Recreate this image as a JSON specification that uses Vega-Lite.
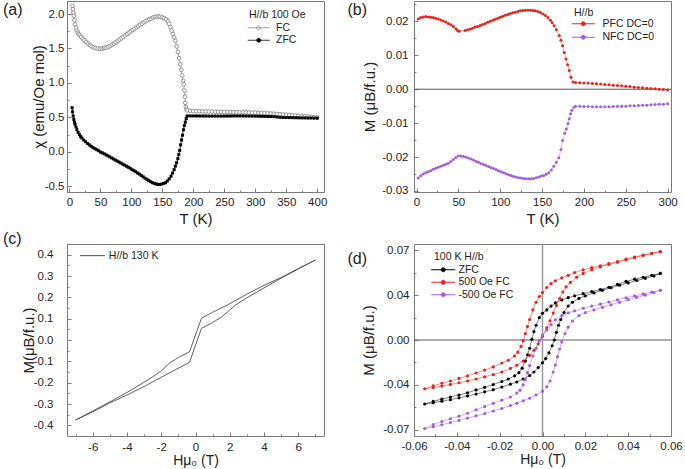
{
"$schema":"https://vega.github.io/schema/vega-lite/v6.json",
"background":"white",
"padding":{"left":2,"top":0,"right":5,"bottom":1},
"datasets":{
"a":[
{"s":"FC","x":4.8,"y":2.12},{"s":"FC","x":5.5,"y":2.07},{"s":"FC","x":6.3,"y":2.02},{"s":"FC","x":7,"y":1.975},{"s":"FC","x":8,"y":1.91},{"s":"FC","x":9.1,"y":1.85},{"s":"FC","x":10.5,"y":1.8},{"s":"FC","x":12,"y":1.76},{"s":"FC","x":13.4,"y":1.73},{"s":"FC","x":15,"y":1.71},{"s":"FC","x":17,"y":1.69},{"s":"FC","x":19,"y":1.665},{"s":"FC","x":21.5,"y":1.64},{"s":"FC","x":24,"y":1.62},{"s":"FC","x":27,"y":1.595},{"s":"FC","x":30,"y":1.57},{"s":"FC","x":33,"y":1.55},{"s":"FC","x":36,"y":1.53},{"s":"FC","x":39,"y":1.515},{"s":"FC","x":42,"y":1.505},{"s":"FC","x":45.5,"y":1.5},{"s":"FC","x":49,"y":1.495},{"s":"FC","x":52,"y":1.5},{"s":"FC","x":55,"y":1.505},{"s":"FC","x":57,"y":1.51},{"s":"FC","x":60,"y":1.515},{"s":"FC","x":63,"y":1.525},{"s":"FC","x":66,"y":1.54},{"s":"FC","x":69,"y":1.555},{"s":"FC","x":72,"y":1.57},{"s":"FC","x":75,"y":1.59},{"s":"FC","x":78,"y":1.61},{"s":"FC","x":81,"y":1.63},{"s":"FC","x":84,"y":1.65},{"s":"FC","x":87,"y":1.67},{"s":"FC","x":90,"y":1.69},{"s":"FC","x":93,"y":1.71},{"s":"FC","x":96,"y":1.73},{"s":"FC","x":99,"y":1.75},{"s":"FC","x":102,"y":1.77},{"s":"FC","x":105,"y":1.785},{"s":"FC","x":108,"y":1.805},{"s":"FC","x":111,"y":1.825},{"s":"FC","x":114,"y":1.845},{"s":"FC","x":117,"y":1.86},{"s":"FC","x":120,"y":1.88},{"s":"FC","x":123,"y":1.895},{"s":"FC","x":126,"y":1.91},{"s":"FC","x":129,"y":1.925},{"s":"FC","x":132,"y":1.935},{"s":"FC","x":135,"y":1.95},{"s":"FC","x":138,"y":1.958},{"s":"FC","x":141,"y":1.963},{"s":"FC","x":144,"y":1.965},{"s":"FC","x":147,"y":1.96},{"s":"FC","x":150,"y":1.95},{"s":"FC","x":153,"y":1.94},{"s":"FC","x":156,"y":1.925},{"s":"FC","x":159,"y":1.895},{"s":"FC","x":161,"y":1.86},{"s":"FC","x":163,"y":1.81},{"s":"FC","x":165,"y":1.76},{"s":"FC","x":167,"y":1.71},{"s":"FC","x":169,"y":1.66},{"s":"FC","x":171,"y":1.61},{"s":"FC","x":173,"y":1.53},{"s":"FC","x":175,"y":1.45},{"s":"FC","x":177,"y":1.36},{"s":"FC","x":179,"y":1.27},{"s":"FC","x":180.5,"y":1.19},{"s":"FC","x":182,"y":1.11},{"s":"FC","x":183.5,"y":1.03},{"s":"FC","x":184.5,"y":0.98},{"s":"FC","x":185.5,"y":0.89},{"s":"FC","x":186.3,"y":0.8},{"s":"FC","x":187,"y":0.71},{"s":"FC","x":188,"y":0.65},{"s":"FC","x":189,"y":0.615},{"s":"FC","x":190,"y":0.6},{"s":"FC","x":195,"y":0.595},{"s":"FC","x":200,"y":0.59},{"s":"FC","x":205,"y":0.589},{"s":"FC","x":210,"y":0.588},{"s":"FC","x":215,"y":0.586},{"s":"FC","x":220,"y":0.585},{"s":"FC","x":225,"y":0.584},{"s":"FC","x":230,"y":0.583},{"s":"FC","x":235,"y":0.581},{"s":"FC","x":240,"y":0.58},{"s":"FC","x":245,"y":0.579},{"s":"FC","x":250,"y":0.578},{"s":"FC","x":255,"y":0.577},{"s":"FC","x":260,"y":0.576},{"s":"FC","x":265,"y":0.575},{"s":"FC","x":270,"y":0.574},{"s":"FC","x":275,"y":0.573},{"s":"FC","x":280,"y":0.572},{"s":"FC","x":285,"y":0.571},{"s":"FC","x":290,"y":0.57},{"s":"FC","x":295,"y":0.568},{"s":"FC","x":300,"y":0.567},{"s":"FC","x":305,"y":0.565},{"s":"FC","x":310,"y":0.563},{"s":"FC","x":315,"y":0.56},{"s":"FC","x":320,"y":0.558},{"s":"FC","x":325,"y":0.555},{"s":"FC","x":330,"y":0.552},{"s":"FC","x":335,"y":0.548},{"s":"FC","x":340,"y":0.545},{"s":"FC","x":345,"y":0.541},{"s":"FC","x":350,"y":0.537},{"s":"FC","x":355,"y":0.533},{"s":"FC","x":360,"y":0.53},{"s":"FC","x":365,"y":0.526},{"s":"FC","x":370,"y":0.522},{"s":"FC","x":375,"y":0.518},{"s":"FC","x":380,"y":0.515},{"s":"FC","x":385,"y":0.511},{"s":"FC","x":390,"y":0.507},{"s":"FC","x":395,"y":0.503},{"s":"FC","x":400,"y":0.5},
{"s":"ZFC","x":4.3,"y":0.64},{"s":"ZFC","x":5,"y":0.58},{"s":"ZFC","x":6,"y":0.52},{"s":"ZFC","x":7,"y":0.47},{"s":"ZFC","x":8,"y":0.43},{"s":"ZFC","x":9,"y":0.4},{"s":"ZFC","x":10.5,"y":0.36},{"s":"ZFC","x":12,"y":0.32},{"s":"ZFC","x":14,"y":0.28},{"s":"ZFC","x":16,"y":0.25},{"s":"ZFC","x":18,"y":0.22},{"s":"ZFC","x":20,"y":0.2},{"s":"ZFC","x":23,"y":0.17},{"s":"ZFC","x":26,"y":0.145},{"s":"ZFC","x":29,"y":0.12},{"s":"ZFC","x":32,"y":0.1},{"s":"ZFC","x":35,"y":0.08},{"s":"ZFC","x":38,"y":0.06},{"s":"ZFC","x":41,"y":0.045},{"s":"ZFC","x":44,"y":0.03},{"s":"ZFC","x":47,"y":0.015},{"s":"ZFC","x":50,"y":-0.005},{"s":"ZFC","x":53,"y":-0.015},{"s":"ZFC","x":56,"y":-0.03},{"s":"ZFC","x":59,"y":-0.045},{"s":"ZFC","x":62,"y":-0.06},{"s":"ZFC","x":65,"y":-0.075},{"s":"ZFC","x":68,"y":-0.09},{"s":"ZFC","x":71,"y":-0.105},{"s":"ZFC","x":74,"y":-0.12},{"s":"ZFC","x":77,"y":-0.135},{"s":"ZFC","x":80,"y":-0.15},{"s":"ZFC","x":83,"y":-0.165},{"s":"ZFC","x":86,"y":-0.18},{"s":"ZFC","x":89,"y":-0.195},{"s":"ZFC","x":92,"y":-0.21},{"s":"ZFC","x":95,"y":-0.225},{"s":"ZFC","x":98,"y":-0.24},{"s":"ZFC","x":101,"y":-0.26},{"s":"ZFC","x":104,"y":-0.275},{"s":"ZFC","x":107,"y":-0.29},{"s":"ZFC","x":110,"y":-0.31},{"s":"ZFC","x":113,"y":-0.325},{"s":"ZFC","x":116,"y":-0.345},{"s":"ZFC","x":119,"y":-0.365},{"s":"ZFC","x":122,"y":-0.385},{"s":"ZFC","x":125,"y":-0.4},{"s":"ZFC","x":128,"y":-0.42},{"s":"ZFC","x":131,"y":-0.435},{"s":"ZFC","x":134,"y":-0.45},{"s":"ZFC","x":137,"y":-0.46},{"s":"ZFC","x":140,"y":-0.47},{"s":"ZFC","x":143,"y":-0.475},{"s":"ZFC","x":146,"y":-0.475},{"s":"ZFC","x":149,"y":-0.47},{"s":"ZFC","x":152,"y":-0.46},{"s":"ZFC","x":155,"y":-0.45},{"s":"ZFC","x":158,"y":-0.425},{"s":"ZFC","x":161,"y":-0.395},{"s":"ZFC","x":164,"y":-0.355},{"s":"ZFC","x":166.5,"y":-0.31},{"s":"ZFC","x":169,"y":-0.26},{"s":"ZFC","x":171,"y":-0.21},{"s":"ZFC","x":173,"y":-0.16},{"s":"ZFC","x":175,"y":-0.1},{"s":"ZFC","x":176.5,"y":-0.04},{"s":"ZFC","x":178,"y":0.02},{"s":"ZFC","x":179.5,"y":0.1},{"s":"ZFC","x":181,"y":0.17},{"s":"ZFC","x":182.5,"y":0.24},{"s":"ZFC","x":184,"y":0.32},{"s":"ZFC","x":185.5,"y":0.38},{"s":"ZFC","x":187,"y":0.43},{"s":"ZFC","x":188.5,"y":0.48},{"s":"ZFC","x":190,"y":0.52},{"s":"ZFC","x":195,"y":0.52},{"s":"ZFC","x":200,"y":0.52},{"s":"ZFC","x":205,"y":0.52},{"s":"ZFC","x":210,"y":0.519},{"s":"ZFC","x":215,"y":0.519},{"s":"ZFC","x":220,"y":0.519},{"s":"ZFC","x":225,"y":0.518},{"s":"ZFC","x":230,"y":0.518},{"s":"ZFC","x":235,"y":0.518},{"s":"ZFC","x":240,"y":0.518},{"s":"ZFC","x":245,"y":0.518},{"s":"ZFC","x":250,"y":0.518},{"s":"ZFC","x":255,"y":0.519},{"s":"ZFC","x":260,"y":0.519},{"s":"ZFC","x":265,"y":0.52},{"s":"ZFC","x":270,"y":0.52},{"s":"ZFC","x":275,"y":0.52},{"s":"ZFC","x":280,"y":0.52},{"s":"ZFC","x":285,"y":0.519},{"s":"ZFC","x":290,"y":0.519},{"s":"ZFC","x":295,"y":0.518},{"s":"ZFC","x":300,"y":0.517},{"s":"ZFC","x":305,"y":0.516},{"s":"ZFC","x":310,"y":0.515},{"s":"ZFC","x":315,"y":0.514},{"s":"ZFC","x":320,"y":0.513},{"s":"ZFC","x":325,"y":0.512},{"s":"ZFC","x":330,"y":0.51},{"s":"ZFC","x":335,"y":0.505},{"s":"ZFC","x":340,"y":0.5},{"s":"ZFC","x":345,"y":0.498},{"s":"ZFC","x":350,"y":0.497},{"s":"ZFC","x":355,"y":0.496},{"s":"ZFC","x":360,"y":0.495},{"s":"ZFC","x":365,"y":0.494},{"s":"ZFC","x":370,"y":0.493},{"s":"ZFC","x":375,"y":0.492},{"s":"ZFC","x":380,"y":0.491},{"s":"ZFC","x":385,"y":0.49},{"s":"ZFC","x":390,"y":0.49},{"s":"ZFC","x":395,"y":0.489},{"s":"ZFC","x":400,"y":0.488}
],
"b":[
{"s":"PFC DC=0","x":2,"y":0.0207},{"s":"PFC DC=0","x":5,"y":0.0211},{"s":"PFC DC=0","x":8,"y":0.0213},{"s":"PFC DC=0","x":11,"y":0.0214},{"s":"PFC DC=0","x":14,"y":0.0213},{"s":"PFC DC=0","x":17,"y":0.0212},{"s":"PFC DC=0","x":20,"y":0.0211},{"s":"PFC DC=0","x":23,"y":0.0209},{"s":"PFC DC=0","x":26,"y":0.0207},{"s":"PFC DC=0","x":29,"y":0.0204},{"s":"PFC DC=0","x":32,"y":0.0201},{"s":"PFC DC=0","x":35,"y":0.0198},{"s":"PFC DC=0","x":38,"y":0.0194},{"s":"PFC DC=0","x":41,"y":0.019},{"s":"PFC DC=0","x":44,"y":0.0185},{"s":"PFC DC=0","x":47,"y":0.0178},{"s":"PFC DC=0","x":49,"y":0.0173},{"s":"PFC DC=0","x":51,"y":0.0171},{"s":"PFC DC=0","x":58,"y":0.0173},{"s":"PFC DC=0","x":61,"y":0.0175},{"s":"PFC DC=0","x":64,"y":0.0177},{"s":"PFC DC=0","x":67,"y":0.018},{"s":"PFC DC=0","x":70,"y":0.0183},{"s":"PFC DC=0","x":73,"y":0.0185},{"s":"PFC DC=0","x":76,"y":0.0188},{"s":"PFC DC=0","x":79,"y":0.0191},{"s":"PFC DC=0","x":82,"y":0.0194},{"s":"PFC DC=0","x":85,"y":0.0197},{"s":"PFC DC=0","x":88,"y":0.02},{"s":"PFC DC=0","x":91,"y":0.0203},{"s":"PFC DC=0","x":94,"y":0.0206},{"s":"PFC DC=0","x":97,"y":0.0209},{"s":"PFC DC=0","x":100,"y":0.0212},{"s":"PFC DC=0","x":103,"y":0.0215},{"s":"PFC DC=0","x":106,"y":0.0218},{"s":"PFC DC=0","x":109,"y":0.022},{"s":"PFC DC=0","x":112,"y":0.0223},{"s":"PFC DC=0","x":115,"y":0.0225},{"s":"PFC DC=0","x":118,"y":0.0227},{"s":"PFC DC=0","x":121,"y":0.0229},{"s":"PFC DC=0","x":124,"y":0.0231},{"s":"PFC DC=0","x":127,"y":0.0232},{"s":"PFC DC=0","x":130,"y":0.0233},{"s":"PFC DC=0","x":133,"y":0.0233},{"s":"PFC DC=0","x":136,"y":0.0233},{"s":"PFC DC=0","x":139,"y":0.0232},{"s":"PFC DC=0","x":142,"y":0.0231},{"s":"PFC DC=0","x":145,"y":0.0229},{"s":"PFC DC=0","x":148,"y":0.0226},{"s":"PFC DC=0","x":151,"y":0.0222},{"s":"PFC DC=0","x":154,"y":0.0217},{"s":"PFC DC=0","x":157,"y":0.0211},{"s":"PFC DC=0","x":160,"y":0.0203},{"s":"PFC DC=0","x":162,"y":0.0196},{"s":"PFC DC=0","x":164.5,"y":0.0187},{"s":"PFC DC=0","x":167,"y":0.0175},{"s":"PFC DC=0","x":170.5,"y":0.0158},{"s":"PFC DC=0","x":172.5,"y":0.0144},{"s":"PFC DC=0","x":174.5,"y":0.0128},{"s":"PFC DC=0","x":176.5,"y":0.0108},{"s":"PFC DC=0","x":178.5,"y":0.0089},{"s":"PFC DC=0","x":180.5,"y":0.0072},{"s":"PFC DC=0","x":182.5,"y":0.0055},{"s":"PFC DC=0","x":184.5,"y":0.0035},{"s":"PFC DC=0","x":187,"y":0.0021},{"s":"PFC DC=0","x":190,"y":0.002},{"s":"PFC DC=0","x":195,"y":0.0019},{"s":"PFC DC=0","x":200,"y":0.0018},{"s":"PFC DC=0","x":205,"y":0.0018},{"s":"PFC DC=0","x":210,"y":0.0017},{"s":"PFC DC=0","x":215,"y":0.0016},{"s":"PFC DC=0","x":220,"y":0.0015},{"s":"PFC DC=0","x":225,"y":0.0014},{"s":"PFC DC=0","x":230,"y":0.0013},{"s":"PFC DC=0","x":235,"y":0.0012},{"s":"PFC DC=0","x":240,"y":0.0011},{"s":"PFC DC=0","x":245,"y":0.001},{"s":"PFC DC=0","x":250,"y":0.0009},{"s":"PFC DC=0","x":255,"y":0.0008},{"s":"PFC DC=0","x":260,"y":0.0006},{"s":"PFC DC=0","x":265,"y":0.0005},{"s":"PFC DC=0","x":270,"y":0.0004},{"s":"PFC DC=0","x":275,"y":0.0003},{"s":"PFC DC=0","x":280,"y":0.0002},{"s":"PFC DC=0","x":285,"y":0.0001},{"s":"PFC DC=0","x":290,"y":0},{"s":"PFC DC=0","x":295,"y":-0.0001},{"s":"PFC DC=0","x":300,"y":-0.0002},
{"s":"NFC DC=0","x":2,"y":-0.0262},{"s":"NFC DC=0","x":5,"y":-0.0255},{"s":"NFC DC=0","x":8,"y":-0.025},{"s":"NFC DC=0","x":11,"y":-0.0246},{"s":"NFC DC=0","x":14,"y":-0.0243},{"s":"NFC DC=0","x":17,"y":-0.024},{"s":"NFC DC=0","x":20,"y":-0.0236},{"s":"NFC DC=0","x":23,"y":-0.0233},{"s":"NFC DC=0","x":26,"y":-0.023},{"s":"NFC DC=0","x":29,"y":-0.0227},{"s":"NFC DC=0","x":32,"y":-0.0224},{"s":"NFC DC=0","x":35,"y":-0.0221},{"s":"NFC DC=0","x":38,"y":-0.0218},{"s":"NFC DC=0","x":41,"y":-0.0213},{"s":"NFC DC=0","x":44,"y":-0.0207},{"s":"NFC DC=0","x":47,"y":-0.0201},{"s":"NFC DC=0","x":50,"y":-0.0197},{"s":"NFC DC=0","x":53,"y":-0.0197},{"s":"NFC DC=0","x":56,"y":-0.0198},{"s":"NFC DC=0","x":59,"y":-0.02},{"s":"NFC DC=0","x":62,"y":-0.0203},{"s":"NFC DC=0","x":65,"y":-0.0206},{"s":"NFC DC=0","x":68,"y":-0.0209},{"s":"NFC DC=0","x":71,"y":-0.0212},{"s":"NFC DC=0","x":74,"y":-0.0215},{"s":"NFC DC=0","x":77,"y":-0.0219},{"s":"NFC DC=0","x":80,"y":-0.0222},{"s":"NFC DC=0","x":83,"y":-0.0225},{"s":"NFC DC=0","x":86,"y":-0.0228},{"s":"NFC DC=0","x":89,"y":-0.0231},{"s":"NFC DC=0","x":92,"y":-0.0234},{"s":"NFC DC=0","x":95,"y":-0.0237},{"s":"NFC DC=0","x":98,"y":-0.024},{"s":"NFC DC=0","x":101,"y":-0.0243},{"s":"NFC DC=0","x":104,"y":-0.0246},{"s":"NFC DC=0","x":107,"y":-0.0249},{"s":"NFC DC=0","x":110,"y":-0.0252},{"s":"NFC DC=0","x":113,"y":-0.0254},{"s":"NFC DC=0","x":116,"y":-0.0257},{"s":"NFC DC=0","x":119,"y":-0.0259},{"s":"NFC DC=0","x":122,"y":-0.0261},{"s":"NFC DC=0","x":125,"y":-0.0262},{"s":"NFC DC=0","x":128,"y":-0.0263},{"s":"NFC DC=0","x":131,"y":-0.0264},{"s":"NFC DC=0","x":134,"y":-0.0264},{"s":"NFC DC=0","x":137,"y":-0.0264},{"s":"NFC DC=0","x":140,"y":-0.0263},{"s":"NFC DC=0","x":143,"y":-0.0261},{"s":"NFC DC=0","x":146,"y":-0.0259},{"s":"NFC DC=0","x":149,"y":-0.0256},{"s":"NFC DC=0","x":152,"y":-0.0254},{"s":"NFC DC=0","x":155,"y":-0.0251},{"s":"NFC DC=0","x":158,"y":-0.0246},{"s":"NFC DC=0","x":161,"y":-0.0238},{"s":"NFC DC=0","x":164,"y":-0.0227},{"s":"NFC DC=0","x":167,"y":-0.0215},{"s":"NFC DC=0","x":170,"y":-0.0202},{"s":"NFC DC=0","x":172.5,"y":-0.0178},{"s":"NFC DC=0","x":174.5,"y":-0.0151},{"s":"NFC DC=0","x":177,"y":-0.013},{"s":"NFC DC=0","x":179,"y":-0.0117},{"s":"NFC DC=0","x":181,"y":-0.0101},{"s":"NFC DC=0","x":182.5,"y":-0.0087},{"s":"NFC DC=0","x":184,"y":-0.0072},{"s":"NFC DC=0","x":185.5,"y":-0.0062},{"s":"NFC DC=0","x":188,"y":-0.0053},{"s":"NFC DC=0","x":190,"y":-0.005},{"s":"NFC DC=0","x":195,"y":-0.005},{"s":"NFC DC=0","x":200,"y":-0.0051},{"s":"NFC DC=0","x":205,"y":-0.0051},{"s":"NFC DC=0","x":210,"y":-0.0052},{"s":"NFC DC=0","x":215,"y":-0.0052},{"s":"NFC DC=0","x":220,"y":-0.0052},{"s":"NFC DC=0","x":225,"y":-0.0052},{"s":"NFC DC=0","x":230,"y":-0.0052},{"s":"NFC DC=0","x":235,"y":-0.0051},{"s":"NFC DC=0","x":240,"y":-0.0051},{"s":"NFC DC=0","x":245,"y":-0.005},{"s":"NFC DC=0","x":250,"y":-0.005},{"s":"NFC DC=0","x":255,"y":-0.0049},{"s":"NFC DC=0","x":260,"y":-0.0049},{"s":"NFC DC=0","x":265,"y":-0.0048},{"s":"NFC DC=0","x":270,"y":-0.0047},{"s":"NFC DC=0","x":275,"y":-0.0047},{"s":"NFC DC=0","x":280,"y":-0.0046},{"s":"NFC DC=0","x":285,"y":-0.0045},{"s":"NFC DC=0","x":290,"y":-0.0044},{"s":"NFC DC=0","x":295,"y":-0.0044},{"s":"NFC DC=0","x":300,"y":-0.0043}
],
"c":[
{"s":"H//b 130 K","i":0,"x":7,"y":0.375},{"s":"H//b 130 K","i":1,"x":6,"y":0.335},{"s":"H//b 130 K","i":2,"x":5,"y":0.293},{"s":"H//b 130 K","i":3,"x":4,"y":0.256},{"s":"H//b 130 K","i":4,"x":3,"y":0.215},{"s":"H//b 130 K","i":5,"x":2,"y":0.17},{"s":"H//b 130 K","i":6,"x":1,"y":0.13},{"s":"H//b 130 K","i":7,"x":0.35,"y":0.102},{"s":"H//b 130 K","i":8,"x":-0.35,"y":-0.055},{"s":"H//b 130 K","i":9,"x":-1,"y":-0.082},{"s":"H//b 130 K","i":10,"x":-1.5,"y":-0.107},{"s":"H//b 130 K","i":11,"x":-2,"y":-0.145},{"s":"H//b 130 K","i":12,"x":-2.3,"y":-0.162},{"s":"H//b 130 K","i":13,"x":-3,"y":-0.198},{"s":"H//b 130 K","i":14,"x":-4,"y":-0.246},{"s":"H//b 130 K","i":15,"x":-5,"y":-0.29},{"s":"H//b 130 K","i":16,"x":-6,"y":-0.333},{"s":"H//b 130 K","i":17,"x":-7,"y":-0.375},{"s":"H//b 130 K","i":18,"x":-6,"y":-0.337},{"s":"H//b 130 K","i":19,"x":-5,"y":-0.295},{"s":"H//b 130 K","i":20,"x":-4,"y":-0.258},{"s":"H//b 130 K","i":21,"x":-3,"y":-0.218},{"s":"H//b 130 K","i":22,"x":-2,"y":-0.175},{"s":"H//b 130 K","i":23,"x":-1,"y":-0.132},{"s":"H//b 130 K","i":24,"x":-0.35,"y":-0.105},{"s":"H//b 130 K","i":25,"x":0.35,"y":0.055},{"s":"H//b 130 K","i":26,"x":1,"y":0.082},{"s":"H//b 130 K","i":27,"x":1.5,"y":0.107},{"s":"H//b 130 K","i":28,"x":2,"y":0.14},{"s":"H//b 130 K","i":29,"x":2.3,"y":0.162},{"s":"H//b 130 K","i":30,"x":3,"y":0.198},{"s":"H//b 130 K","i":31,"x":4,"y":0.244},{"s":"H//b 130 K","i":32,"x":5,"y":0.29},{"s":"H//b 130 K","i":33,"x":6,"y":0.333},{"s":"H//b 130 K","i":34,"x":7,"y":0.375}
],
"d":[
{"s":"ZFC","i":0,"x":0.055,"y":0.052},{"s":"ZFC","i":1,"x":0.051,"y":0.0505},{"s":"ZFC","i":2,"x":0.047,"y":0.049},{"s":"ZFC","i":3,"x":0.043,"y":0.0475},{"s":"ZFC","i":4,"x":0.039,"y":0.0458},{"s":"ZFC","i":5,"x":0.035,"y":0.0434},{"s":"ZFC","i":6,"x":0.031,"y":0.0412},{"s":"ZFC","i":7,"x":0.027,"y":0.0394},{"s":"ZFC","i":8,"x":0.023,"y":0.0378},{"s":"ZFC","i":9,"x":0.019,"y":0.0362},{"s":"ZFC","i":10,"x":0.015,"y":0.0345},{"s":"ZFC","i":11,"x":0.012,"y":0.0331},{"s":"ZFC","i":12,"x":0.009,"y":0.0313},{"s":"ZFC","i":13,"x":0.006,"y":0.029},{"s":"ZFC","i":14,"x":0.004,"y":0.0265},{"s":"ZFC","i":15,"x":0.002,"y":0.0235},{"s":"ZFC","i":16,"x":0,"y":0.0209},{"s":"ZFC","i":17,"x":-0.0015,"y":0.0175},{"s":"ZFC","i":18,"x":-0.003,"y":0.0115},{"s":"ZFC","i":19,"x":-0.004,"y":0.0065},{"s":"ZFC","i":20,"x":-0.005,"y":0.0005},{"s":"ZFC","i":21,"x":-0.006,"y":-0.0065},{"s":"ZFC","i":22,"x":-0.007,"y":-0.0115},{"s":"ZFC","i":23,"x":-0.008,"y":-0.0165},{"s":"ZFC","i":24,"x":-0.0095,"y":-0.022},{"s":"ZFC","i":25,"x":-0.011,"y":-0.0255},{"s":"ZFC","i":26,"x":-0.013,"y":-0.028},{"s":"ZFC","i":27,"x":-0.016,"y":-0.0305},{"s":"ZFC","i":28,"x":-0.019,"y":-0.0324},{"s":"ZFC","i":29,"x":-0.023,"y":-0.0348},{"s":"ZFC","i":30,"x":-0.027,"y":-0.037},{"s":"ZFC","i":31,"x":-0.031,"y":-0.039},{"s":"ZFC","i":32,"x":-0.035,"y":-0.0412},{"s":"ZFC","i":33,"x":-0.039,"y":-0.043},{"s":"ZFC","i":34,"x":-0.043,"y":-0.0446},{"s":"ZFC","i":35,"x":-0.047,"y":-0.0462},{"s":"ZFC","i":36,"x":-0.051,"y":-0.048},{"s":"ZFC","i":37,"x":-0.055,"y":-0.05},{"s":"ZFC","i":38,"x":-0.051,"y":-0.049},{"s":"ZFC","i":39,"x":-0.047,"y":-0.0478},{"s":"ZFC","i":40,"x":-0.043,"y":-0.0466},{"s":"ZFC","i":41,"x":-0.039,"y":-0.0452},{"s":"ZFC","i":42,"x":-0.035,"y":-0.0437},{"s":"ZFC","i":43,"x":-0.031,"y":-0.0422},{"s":"ZFC","i":44,"x":-0.027,"y":-0.0405},{"s":"ZFC","i":45,"x":-0.023,"y":-0.0388},{"s":"ZFC","i":46,"x":-0.019,"y":-0.0368},{"s":"ZFC","i":47,"x":-0.015,"y":-0.0345},{"s":"ZFC","i":48,"x":-0.012,"y":-0.0328},{"s":"ZFC","i":49,"x":-0.009,"y":-0.0305},{"s":"ZFC","i":50,"x":-0.006,"y":-0.0278},{"s":"ZFC","i":51,"x":-0.004,"y":-0.025},{"s":"ZFC","i":52,"x":-0.002,"y":-0.0215},{"s":"ZFC","i":53,"x":0,"y":-0.0178},{"s":"ZFC","i":54,"x":0.0015,"y":-0.0145},{"s":"ZFC","i":55,"x":0.003,"y":-0.01},{"s":"ZFC","i":56,"x":0.0045,"y":-0.0045},{"s":"ZFC","i":57,"x":0.0055,"y":0},{"s":"ZFC","i":58,"x":0.0065,"y":0.006},{"s":"ZFC","i":59,"x":0.0075,"y":0.0115},{"s":"ZFC","i":60,"x":0.0085,"y":0.016},{"s":"ZFC","i":61,"x":0.01,"y":0.0215},{"s":"ZFC","i":62,"x":0.012,"y":0.0265},{"s":"ZFC","i":63,"x":0.014,"y":0.0295},{"s":"ZFC","i":64,"x":0.017,"y":0.0325},{"s":"ZFC","i":65,"x":0.02,"y":0.0345},{"s":"ZFC","i":66,"x":0.024,"y":0.0368},{"s":"ZFC","i":67,"x":0.028,"y":0.0388},{"s":"ZFC","i":68,"x":0.032,"y":0.0408},{"s":"ZFC","i":69,"x":0.036,"y":0.0428},{"s":"ZFC","i":70,"x":0.04,"y":0.0446},{"s":"ZFC","i":71,"x":0.044,"y":0.0465},{"s":"ZFC","i":72,"x":0.048,"y":0.0482},{"s":"ZFC","i":73,"x":0.052,"y":0.05},{"s":"ZFC","i":74,"x":0.055,"y":0.052},
{"s":"500 Oe FC","i":0,"x":0.055,"y":0.069},{"s":"500 Oe FC","i":1,"x":0.051,"y":0.0678},{"s":"500 Oe FC","i":2,"x":0.047,"y":0.0664},{"s":"500 Oe FC","i":3,"x":0.043,"y":0.0648},{"s":"500 Oe FC","i":4,"x":0.039,"y":0.0632},{"s":"500 Oe FC","i":5,"x":0.035,"y":0.0612},{"s":"500 Oe FC","i":6,"x":0.031,"y":0.0597},{"s":"500 Oe FC","i":7,"x":0.027,"y":0.058},{"s":"500 Oe FC","i":8,"x":0.023,"y":0.0565},{"s":"500 Oe FC","i":9,"x":0.019,"y":0.0548},{"s":"500 Oe FC","i":10,"x":0.015,"y":0.0527},{"s":"500 Oe FC","i":11,"x":0.012,"y":0.0505},{"s":"500 Oe FC","i":12,"x":0.009,"y":0.0485},{"s":"500 Oe FC","i":13,"x":0.006,"y":0.0462},{"s":"500 Oe FC","i":14,"x":0.004,"y":0.044},{"s":"500 Oe FC","i":15,"x":0.002,"y":0.041},{"s":"500 Oe FC","i":16,"x":0,"y":0.0371},{"s":"500 Oe FC","i":17,"x":-0.0015,"y":0.034},{"s":"500 Oe FC","i":18,"x":-0.003,"y":0.0295},{"s":"500 Oe FC","i":19,"x":-0.0045,"y":0.0235},{"s":"500 Oe FC","i":20,"x":-0.006,"y":0.016},{"s":"500 Oe FC","i":21,"x":-0.007,"y":0.0105},{"s":"500 Oe FC","i":22,"x":-0.008,"y":0.005},{"s":"500 Oe FC","i":23,"x":-0.009,"y":-0.0005},{"s":"500 Oe FC","i":24,"x":-0.01,"y":-0.005},{"s":"500 Oe FC","i":25,"x":-0.0115,"y":-0.0095},{"s":"500 Oe FC","i":26,"x":-0.013,"y":-0.0125},{"s":"500 Oe FC","i":27,"x":-0.016,"y":-0.0158},{"s":"500 Oe FC","i":28,"x":-0.019,"y":-0.018},{"s":"500 Oe FC","i":29,"x":-0.023,"y":-0.021},{"s":"500 Oe FC","i":30,"x":-0.027,"y":-0.0235},{"s":"500 Oe FC","i":31,"x":-0.031,"y":-0.0258},{"s":"500 Oe FC","i":32,"x":-0.035,"y":-0.028},{"s":"500 Oe FC","i":33,"x":-0.039,"y":-0.03},{"s":"500 Oe FC","i":34,"x":-0.043,"y":-0.032},{"s":"500 Oe FC","i":35,"x":-0.047,"y":-0.0338},{"s":"500 Oe FC","i":36,"x":-0.051,"y":-0.0358},{"s":"500 Oe FC","i":37,"x":-0.055,"y":-0.0381},{"s":"500 Oe FC","i":38,"x":-0.051,"y":-0.0372},{"s":"500 Oe FC","i":39,"x":-0.047,"y":-0.036},{"s":"500 Oe FC","i":40,"x":-0.043,"y":-0.0347},{"s":"500 Oe FC","i":41,"x":-0.039,"y":-0.0334},{"s":"500 Oe FC","i":42,"x":-0.035,"y":-0.032},{"s":"500 Oe FC","i":43,"x":-0.031,"y":-0.0305},{"s":"500 Oe FC","i":44,"x":-0.027,"y":-0.0288},{"s":"500 Oe FC","i":45,"x":-0.023,"y":-0.027},{"s":"500 Oe FC","i":46,"x":-0.019,"y":-0.025},{"s":"500 Oe FC","i":47,"x":-0.015,"y":-0.0222},{"s":"500 Oe FC","i":48,"x":-0.012,"y":-0.0197},{"s":"500 Oe FC","i":49,"x":-0.009,"y":-0.0165},{"s":"500 Oe FC","i":50,"x":-0.006,"y":-0.012},{"s":"500 Oe FC","i":51,"x":-0.004,"y":-0.008},{"s":"500 Oe FC","i":52,"x":-0.002,"y":-0.003},{"s":"500 Oe FC","i":53,"x":0,"y":0.003},{"s":"500 Oe FC","i":54,"x":0.002,"y":0.0095},{"s":"500 Oe FC","i":55,"x":0.0035,"y":0.015},{"s":"500 Oe FC","i":56,"x":0.005,"y":0.021},{"s":"500 Oe FC","i":57,"x":0.0065,"y":0.027},{"s":"500 Oe FC","i":58,"x":0.008,"y":0.0325},{"s":"500 Oe FC","i":59,"x":0.0095,"y":0.0375},{"s":"500 Oe FC","i":60,"x":0.011,"y":0.0415},{"s":"500 Oe FC","i":61,"x":0.013,"y":0.045},{"s":"500 Oe FC","i":62,"x":0.016,"y":0.049},{"s":"500 Oe FC","i":63,"x":0.019,"y":0.052},{"s":"500 Oe FC","i":64,"x":0.023,"y":0.0548},{"s":"500 Oe FC","i":65,"x":0.027,"y":0.057},{"s":"500 Oe FC","i":66,"x":0.031,"y":0.059},{"s":"500 Oe FC","i":67,"x":0.035,"y":0.0608},{"s":"500 Oe FC","i":68,"x":0.039,"y":0.0625},{"s":"500 Oe FC","i":69,"x":0.043,"y":0.0643},{"s":"500 Oe FC","i":70,"x":0.047,"y":0.066},{"s":"500 Oe FC","i":71,"x":0.051,"y":0.0675},{"s":"500 Oe FC","i":72,"x":0.055,"y":0.069},
{"s":"-500 Oe FC","i":0,"x":0.055,"y":0.0389},{"s":"-500 Oe FC","i":1,"x":0.051,"y":0.0375},{"s":"-500 Oe FC","i":2,"x":0.047,"y":0.036},{"s":"-500 Oe FC","i":3,"x":0.043,"y":0.0345},{"s":"-500 Oe FC","i":4,"x":0.039,"y":0.033},{"s":"-500 Oe FC","i":5,"x":0.035,"y":0.0313},{"s":"-500 Oe FC","i":6,"x":0.031,"y":0.0297},{"s":"-500 Oe FC","i":7,"x":0.027,"y":0.028},{"s":"-500 Oe FC","i":8,"x":0.023,"y":0.0265},{"s":"-500 Oe FC","i":9,"x":0.019,"y":0.0248},{"s":"-500 Oe FC","i":10,"x":0.015,"y":0.0228},{"s":"-500 Oe FC","i":11,"x":0.012,"y":0.0212},{"s":"-500 Oe FC","i":12,"x":0.009,"y":0.019},{"s":"-500 Oe FC","i":13,"x":0.006,"y":0.0158},{"s":"-500 Oe FC","i":14,"x":0.004,"y":0.012},{"s":"-500 Oe FC","i":15,"x":0.002,"y":0.0078},{"s":"-500 Oe FC","i":16,"x":0,"y":0.0037},{"s":"-500 Oe FC","i":17,"x":-0.0015,"y":-0.0005},{"s":"-500 Oe FC","i":18,"x":-0.003,"y":-0.0065},{"s":"-500 Oe FC","i":19,"x":-0.0045,"y":-0.0125},{"s":"-500 Oe FC","i":20,"x":-0.006,"y":-0.02},{"s":"-500 Oe FC","i":21,"x":-0.007,"y":-0.0255},{"s":"-500 Oe FC","i":22,"x":-0.008,"y":-0.031},{"s":"-500 Oe FC","i":23,"x":-0.009,"y":-0.035},{"s":"-500 Oe FC","i":24,"x":-0.0105,"y":-0.0392},{"s":"-500 Oe FC","i":25,"x":-0.012,"y":-0.0415},{"s":"-500 Oe FC","i":26,"x":-0.015,"y":-0.0445},{"s":"-500 Oe FC","i":27,"x":-0.019,"y":-0.047},{"s":"-500 Oe FC","i":28,"x":-0.023,"y":-0.0495},{"s":"-500 Oe FC","i":29,"x":-0.027,"y":-0.052},{"s":"-500 Oe FC","i":30,"x":-0.031,"y":-0.0545},{"s":"-500 Oe FC","i":31,"x":-0.035,"y":-0.0572},{"s":"-500 Oe FC","i":32,"x":-0.039,"y":-0.0595},{"s":"-500 Oe FC","i":33,"x":-0.043,"y":-0.0615},{"s":"-500 Oe FC","i":34,"x":-0.047,"y":-0.0637},{"s":"-500 Oe FC","i":35,"x":-0.051,"y":-0.066},{"s":"-500 Oe FC","i":36,"x":-0.055,"y":-0.0692},{"s":"-500 Oe FC","i":37,"x":-0.051,"y":-0.0678},{"s":"-500 Oe FC","i":38,"x":-0.047,"y":-0.0662},{"s":"-500 Oe FC","i":39,"x":-0.043,"y":-0.0645},{"s":"-500 Oe FC","i":40,"x":-0.039,"y":-0.0628},{"s":"-500 Oe FC","i":41,"x":-0.035,"y":-0.061},{"s":"-500 Oe FC","i":42,"x":-0.031,"y":-0.0592},{"s":"-500 Oe FC","i":43,"x":-0.027,"y":-0.0575},{"s":"-500 Oe FC","i":44,"x":-0.023,"y":-0.0555},{"s":"-500 Oe FC","i":45,"x":-0.019,"y":-0.0535},{"s":"-500 Oe FC","i":46,"x":-0.015,"y":-0.0512},{"s":"-500 Oe FC","i":47,"x":-0.012,"y":-0.0495},{"s":"-500 Oe FC","i":48,"x":-0.009,"y":-0.0475},{"s":"-500 Oe FC","i":49,"x":-0.006,"y":-0.0455},{"s":"-500 Oe FC","i":50,"x":-0.003,"y":-0.043},{"s":"-500 Oe FC","i":51,"x":0,"y":-0.04},{"s":"-500 Oe FC","i":52,"x":0.002,"y":-0.0365},{"s":"-500 Oe FC","i":53,"x":0.0035,"y":-0.032},{"s":"-500 Oe FC","i":54,"x":0.005,"y":-0.025},{"s":"-500 Oe FC","i":55,"x":0.006,"y":-0.0195},{"s":"-500 Oe FC","i":56,"x":0.007,"y":-0.013},{"s":"-500 Oe FC","i":57,"x":0.008,"y":-0.007},{"s":"-500 Oe FC","i":58,"x":0.009,"y":-0.0015},{"s":"-500 Oe FC","i":59,"x":0.0105,"y":0.005},{"s":"-500 Oe FC","i":60,"x":0.012,"y":0.01},{"s":"-500 Oe FC","i":61,"x":0.014,"y":0.0148},{"s":"-500 Oe FC","i":62,"x":0.017,"y":0.019},{"s":"-500 Oe FC","i":63,"x":0.02,"y":0.0215},{"s":"-500 Oe FC","i":64,"x":0.024,"y":0.0235},{"s":"-500 Oe FC","i":65,"x":0.028,"y":0.0255},{"s":"-500 Oe FC","i":66,"x":0.032,"y":0.0275},{"s":"-500 Oe FC","i":67,"x":0.036,"y":0.0295},{"s":"-500 Oe FC","i":68,"x":0.04,"y":0.0315},{"s":"-500 Oe FC","i":69,"x":0.044,"y":0.0333},{"s":"-500 Oe FC","i":70,"x":0.048,"y":0.035},{"s":"-500 Oe FC","i":71,"x":0.052,"y":0.037},{"s":"-500 Oe FC","i":72,"x":0.055,"y":0.0389}
]
},
"columns":2,
"spacing":{"row":52,"column":90},
"bounds":"flush",
"resolve":{"scale":{"x":"independent","y":"independent","stroke":"independent","fill":"independent"},"legend":{"stroke":"independent","fill":"independent"}},
"concat":[
{"width":257,"height":191,
 "title":{"text":"(a)","baseline":"top","offset":0,"dx":-64,"dy":17},
 "data":{"name":"a"},
 "resolve":{"axis":{"x":"independent","y":"independent"}},
 "layer":[
  {"mark":{"type":"line","strokeWidth":0.8},
   "encoding":{
    "x":{"field":"x","type":"quantitative","scale":{"domain":[-4,411],"nice":false,"zero":false},
      "axis":{"orient":"bottom","title":"T (K)","values":[0,50,100,150,200,250,300,350,400],"format":"d","tickSize":-4,"labelPadding":8.3,"titlePadding":4}},
    "y":{"field":"y","type":"quantitative","scale":{"domain":[-0.585,2.19],"nice":false,"zero":false},
      "axis":{"orient":"left","title":"χ (emu/Oe mol)","values":[-0.5,0,0.5,1,1.5,2],"format":".1f","tickSize":-4,"labelPadding":7,"titlePadding":-2}},
    "stroke":{"field":"s","type":"nominal","scale":{"domain":["FC","ZFC"],"range":["#8c8c8c","#000000"]},
      "legend":{"title":"H//b 100 Oe","orient":"none","legendX":182,"legendY":9,"symbolType":"M-5.5,0H5.5M-1,0A1,1,0,1,1,1,0A1,1,0,1,1,-1,0","symbolSize":16,"symbolStrokeWidth":0.8,"symbolOffset":4.5,"labelOffset":12,"rowPadding":1.5,"titlePadding":2,
        "encode":{"symbols":{"update":{"fill":{"signal":"datum.value === 'FC' ? '#ffffff' : '#000000'"},"fillOpacity":{"value":1}}}}}}
   }},
  {"transform":[{"filter":"datum.s === 'FC'"}],
   "mark":{"type":"point","shape":"circle","size":14,"filled":true,"fill":"#ffffff","stroke":"#7a7a7a","strokeWidth":0.8,"opacity":1},
   "encoding":{
    "x":{"field":"x","type":"quantitative","axis":{"orient":"bottom","values":[25,75,125,175,225,275,325,375],"tickSize":-2,"labels":false,"title":null}},
    "y":{"field":"y","type":"quantitative","axis":{"orient":"left","values":[-0.25,0.25,0.75,1.25,1.75],"tickSize":-2,"labels":false,"title":null}}}},
  {"transform":[{"filter":"datum.s === 'ZFC'"}],
   "mark":{"type":"point","shape":"square","size":9,"filled":true,"color":"#000000","opacity":1},
   "encoding":{"x":{"field":"x","type":"quantitative","axis":null},"y":{"field":"y","type":"quantitative","axis":null}}}
 ]},
{"width":257,"height":191,
 "title":{"text":"(b)","baseline":"top","offset":0,"dx":-66.6,"dy":17},
 "resolve":{"axis":{"x":"independent","y":"independent"}},
 "layer":[
  {"data":{"values":[{}]},"mark":{"type":"rule","color":"#555555","strokeWidth":1},"encoding":{"y":{"datum":0,"type":"quantitative","axis":null}}},
  {"data":{"name":"b"},"mark":{"type":"line","strokeWidth":1,"strokeOpacity":0.45},
   "encoding":{
    "x":{"field":"x","type":"quantitative","scale":{"domain":[-3,304],"nice":false,"zero":false},
      "axis":{"orient":"bottom","title":"T (K)","values":[0,50,100,150,200,250,300],"format":"d","tickSize":-4,"labelPadding":8.3,"titlePadding":4}},
    "y":{"field":"y","type":"quantitative","scale":{"domain":[-0.0303,0.026],"nice":false,"zero":false},
      "axis":{"orient":"left","title":"M (μB/f.u.)","values":[-0.03,-0.02,-0.01,0,0.01,0.02],"format":".2f","tickSize":-4,"labelPadding":10,"titlePadding":4}},
    "stroke":{"field":"s","type":"nominal","scale":{"domain":["PFC DC=0","NFC DC=0"],"range":["#e8231c","#a25fd9"]},
      "legend":{"title":"H//b","orient":"none","legendX":160,"legendY":7,"symbolType":"M-5.75,0H5.75M-1,0A1,1,0,1,1,1,0A1,1,0,1,1,-1,0","symbolSize":16,"symbolStrokeWidth":1,"symbolOffset":4,"labelOffset":14,"rowPadding":2.5,"titlePadding":0,
        "encode":{"symbols":{"update":{"fill":{"signal":"datum.value === 'PFC DC=0' ? '#e8231c' : '#a25fd9'"},"fillOpacity":{"value":1}}}}}}
   }},
  {"data":{"name":"b"},"mark":{"type":"point","shape":"circle","size":9,"filled":true,"opacity":1,"strokeWidth":0},
   "encoding":{
    "x":{"field":"x","type":"quantitative","axis":{"orient":"bottom","values":[25,75,125,175,225,275],"tickSize":-2,"labels":false,"title":null}},
    "y":{"field":"y","type":"quantitative","axis":{"orient":"left","values":[-0.025,-0.015,-0.005,0.005,0.015,0.025],"tickSize":-2,"labels":false,"title":null}},
    "fill":{"field":"s","type":"nominal","scale":{"domain":["PFC DC=0","NFC DC=0"],"range":["#e8231c","#a25fd9"]},"legend":null}}}
 ]},
{"width":257,"height":192,
 "title":{"text":"(c)","baseline":"top","offset":0,"dx":-64,"dy":3},
 "data":{"name":"c"},
 "resolve":{"axis":{"x":"independent","y":"independent"}},
 "layer":[
  {"mark":{"type":"line","strokeWidth":0.9},
   "encoding":{
    "x":{"field":"x","type":"quantitative","scale":{"domain":[-7.5,7.5],"nice":false,"zero":false},
      "axis":{"orient":"bottom","title":"Hμ₀ (T)","titleFontSize":14,"values":[-6,-4,-2,0,2,4,6],"format":"d","tickSize":-4,"labelPadding":9.5,"titlePadding":0}},
    "y":{"field":"y","type":"quantitative","scale":{"domain":[-0.45,0.45],"nice":false,"zero":false},
      "axis":{"orient":"left","title":"M(μB/f.u.)","values":[-0.4,-0.3,-0.2,-0.1,0,0.1,0.2,0.3,0.4],"format":".1f","tickSize":-4,"labelPadding":18,"titlePadding":-3}},
    "order":{"field":"i","type":"quantitative"},
    "stroke":{"field":"s","type":"nominal","scale":{"domain":["H//b 130 K"],"range":["#4d4d4d"]},
      "legend":{"title":null,"orient":"none","legendX":13.3,"legendY":6.4,"symbolType":"M-6.25,0H6.25","symbolSize":16,"symbolStrokeWidth":1,"symbolOffset":7,"labelOffset":11}}
   }},
  {"mark":{"type":"point","opacity":0,"size":1},
   "encoding":{
    "x":{"field":"x","type":"quantitative","axis":{"orient":"bottom","values":[-7,-5,-3,-1,1,3,5,7],"tickSize":-2,"labels":false,"title":null}},
    "y":{"field":"y","type":"quantitative","axis":{"orient":"left","values":[-0.35,-0.25,-0.15,-0.05,0.05,0.15,0.25,0.35],"tickSize":-2,"labels":false,"title":null}}}}
 ]},
{"width":257,"height":192,
 "title":{"text":"(d)","baseline":"top","offset":0,"dx":-66.6,"dy":24},
 "resolve":{"axis":{"x":"independent","y":"independent"}},
 "layer":[
  {"data":{"values":[{}]},"mark":{"type":"rule","color":"#5a5a5a","strokeWidth":1},"encoding":{"y":{"datum":0,"type":"quantitative","axis":null}}},
  {"data":{"values":[{}]},"mark":{"type":"rule","color":"#9a9a9a","strokeWidth":1.5},"encoding":{"x":{"datum":0,"type":"quantitative","axis":null}}},
  {"data":{"name":"d"},"mark":{"type":"line","strokeWidth":1,"strokeOpacity":0.5},
   "encoding":{
    "x":{"field":"x","type":"quantitative","scale":{"domain":[-0.06,0.06],"nice":false,"zero":false},
      "axis":{"orient":"bottom","title":"Hμ₀ (T)","titleFontSize":14,"values":[-0.06,-0.04,-0.02,0,0.02,0.04,0.06],"format":".2f","tickSize":-4,"labelPadding":8.5,"titlePadding":0}},
    "y":{"field":"y","type":"quantitative","scale":{"domain":[-0.075,0.075],"nice":false,"zero":false},
      "axis":{"orient":"left","title":"M (μB/f.u.)","values":[-0.07,-0.035,0,0.035,0.07],"format":".2f","tickSize":-4,"labelPadding":9,"titlePadding":6}},
    "order":{"field":"i","type":"quantitative"},
    "stroke":{"field":"s","type":"nominal","scale":{"domain":["ZFC","500 Oe FC","-500 Oe FC"],"range":["#000000","#e8231c","#a25fd9"]},
      "legend":{"title":"100 K H//b","orient":"none","legendX":20,"legendY":8,"symbolType":"M-6,0H6M-1,0A1,1,0,1,1,1,0A1,1,0,1,1,-1,0","symbolSize":16,"symbolStrokeWidth":1,"symbolOffset":4,"labelOffset":10,"rowPadding":1.5,"titlePadding":2,
        "encode":{"symbols":{"update":{"fill":{"signal":"datum.value === 'ZFC' ? '#000000' : datum.value === '500 Oe FC' ? '#e8231c' : '#a25fd9'"},"fillOpacity":{"value":1}}}}}}
   }},
  {"data":{"name":"d"},"mark":{"type":"point","shape":"circle","size":10,"filled":true,"opacity":1,"strokeWidth":0},
   "encoding":{
    "x":{"field":"x","type":"quantitative","axis":{"orient":"bottom","values":[-0.05,-0.03,-0.01,0.01,0.03,0.05],"tickSize":-2,"labels":false,"title":null}},
    "y":{"field":"y","type":"quantitative","axis":{"orient":"left","values":[-0.0525,-0.0175,0.0175,0.0525],"tickSize":-2,"labels":false,"title":null}},
    "fill":{"field":"s","type":"nominal","scale":{"domain":["ZFC","500 Oe FC","-500 Oe FC"],"range":["#000000","#e8231c","#a25fd9"]},"legend":null}}}
 ]}
],
"config":{
 "font":"Liberation Sans",
 "view":{"stroke":"#7a7a7a","strokeWidth":1},
 "axis":{"domain":false,"grid":false,"tickColor":"#7a7a7a","tickWidth":1,"labelFontSize":11.5,"labelColor":"#222222","titleFontSize":15,"titleFontWeight":"normal","titleColor":"#222222","labelFlush":false,"labelOverlap":false,"labelBound":false},
 "legend":{"labelColor":"#222222","titleColor":"#222222","labelFontSize":10.5,"titleFontSize":10.5,"titleFontWeight":"normal","padding":0,"labelLimit":200},
 "title":{"fontSize":16,"fontWeight":"normal","color":"#222222","anchor":"start","frame":"group"},
 "locale":{"number":{"decimal":".","thousands":",","grouping":[3],"currency":["$",""],"minus":"-"}}
}
}
